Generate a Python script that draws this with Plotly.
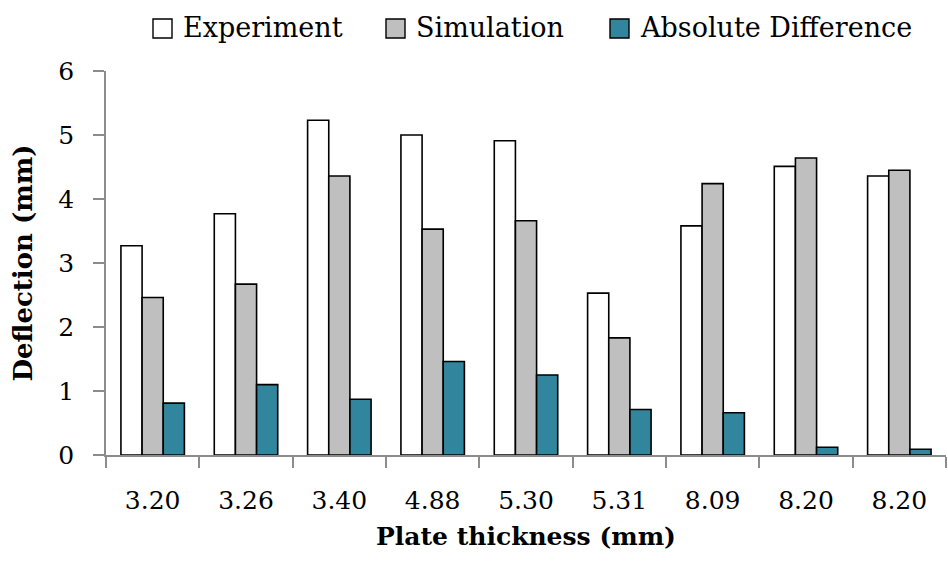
import plotly.graph_objects as go

# Plate thickness categories (two plates share 8.20 mm)
thickness = ["3.20", "3.26", "3.40", "4.88", "5.30", "5.31", "8.09", "8.20", "8.20"]
experiment = [3.27, 3.77, 5.23, 5.00, 4.91, 2.53, 3.58, 4.51, 4.36]
simulation = [2.46, 2.67, 4.36, 3.53, 3.66, 1.83, 4.24, 4.64, 4.45]
abs_diff = [0.81, 1.10, 0.87, 1.46, 1.25, 0.71, 0.66, 0.12, 0.09]

series_names = ["Experiment", "Simulation", "Absolute Difference"]
series_colors = ["#ffffff", "#bfbfbf", "#31859c"]

positions = list(range(len(thickness)))
boundaries = [p - 0.5 for p in positions] + [positions[-1] + 0.5]

FONT = "DejaVu Serif"
AXIS_GREY = "#8c8c8c"

# plot-area geometry in pixels, used to place the legend keys above it
W, H = 948, 563
ML, MR, MT, MB = 106, 2, 71, 108
PW, PH = W - ML - MR, H - MT - MB


def px_x(px):
    return (px - ML) / PW


def px_y(py):
    return (H - MB - py) / PH


fig = go.Figure()
for name, vals, color in zip(series_names, [experiment, simulation, abs_diff], series_colors):
    fig.add_trace(go.Bar(
        x=positions, y=vals, name=name, showlegend=False,
        marker=dict(color=color, line=dict(color="#000000", width=1.6)),
    ))

# legend row: square key followed by its label
legend_box_left = [153, 386, 610]
for left, name, color in zip(legend_box_left, series_names, series_colors):
    fig.add_shape(
        type="rect", xref="paper", yref="paper",
        x0=px_x(left), x1=px_x(left + 19), y0=px_y(38), y1=px_y(19),
        fillcolor=color, line=dict(color="#000000", width=1.4),
    )
    fig.add_annotation(
        xref="paper", yref="paper", x=px_x(left + 28), y=px_y(28),
        xanchor="left", yanchor="middle", showarrow=False,
        text=name, font=dict(family=FONT, size=27, color="#000000"),
    )

fig.update_layout(
    width=W, height=H,
    margin=dict(l=ML, r=MR, t=MT, b=MB, autoexpand=False),
    plot_bgcolor="white", paper_bgcolor="white",
    barmode="group", bargap=0.32, bargroupgap=0,
    font=dict(family=FONT, size=25, color="#000000"),
    showlegend=False,
)

fig.update_xaxes(
    range=[-0.5, len(thickness) - 0.5],
    tickvals=positions, ticktext=thickness, ticks="",
    tickfont=dict(size=25), ticklabelstandoff=22,
    showline=True, linecolor=AXIS_GREY, linewidth=1.5,
    showgrid=False, zeroline=False,
    minor=dict(tickvals=boundaries, ticks="outside", ticklen=11,
               tickcolor=AXIS_GREY, tickwidth=1.5, showgrid=False),
    title=dict(text="<b>Plate thickness (mm)</b>", font=dict(size=25), standoff=14),
)
fig.update_yaxes(
    range=[0, 6], dtick=1, ticks="outside", ticklen=11,
    tickcolor=AXIS_GREY, tickwidth=1.5,
    tickfont=dict(size=25), ticklabelstandoff=14,
    showline=True, linecolor=AXIS_GREY, linewidth=1.5,
    showgrid=False, zeroline=False,
    title=dict(text="<b>Deflection (mm)</b>", font=dict(size=26), standoff=18),
)

fig.write_html("out.html")
